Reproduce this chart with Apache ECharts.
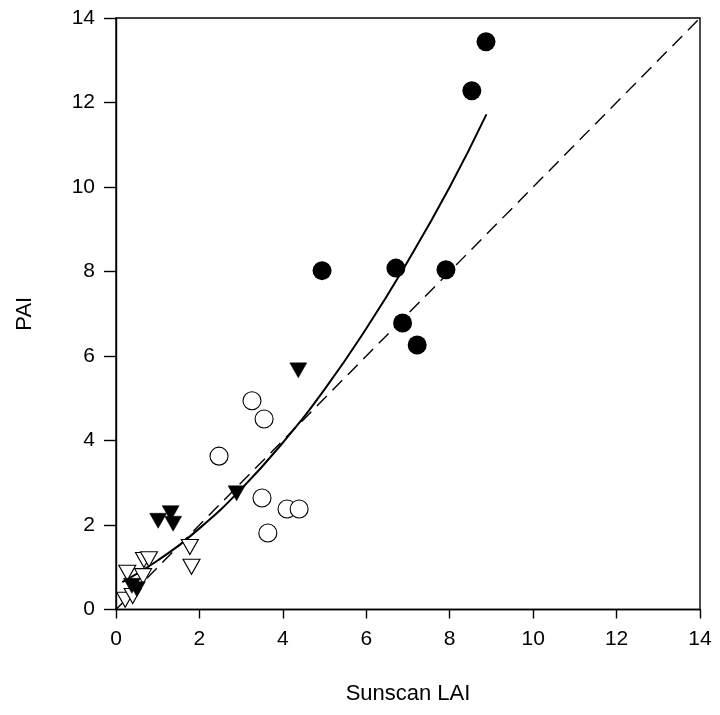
<!DOCTYPE html>
<html>
<head>
<meta charset="utf-8">
<script src="https://cdn.jsdelivr.net/npm/echarts@6/dist/echarts.min.js"></script>
<style>
  html, body { margin: 0; padding: 0; background: #fff; }
  #chart { width: 720px; height: 715px; }
</style>
</head>
<body>
<div id="chart"></div>
<script>
// Axis ticks
const xTicks = [0, 2, 4, 6, 8, 10, 12, 14];
const yTicks = [0, 2, 4, 6, 8, 10, 12, 14];

// Filled circles: [Sunscan LAI, PAI]
const filledCircles = [
  [4.94, 8.02], [6.71, 8.08], [7.91, 8.04], [6.87, 6.78],
  [7.22, 6.26], [8.53, 12.28], [8.87, 13.44]
];
// Open circles
const openCircles = [
  [3.26, 4.94], [3.55, 4.51], [2.47, 3.63], [3.50, 2.64],
  [3.64, 1.81], [4.10, 2.38], [4.39, 2.38]
];
// Filled down-triangles
const filledTriangles = [
  [0.38, 0.56], [0.50, 0.48], [1.01, 2.10], [1.31, 2.28],
  [1.37, 2.03], [2.89, 2.75], [4.37, 5.66]
];
// Open down-triangles
const openTriangles = [
  [0.22, 0.23], [0.40, 0.32], [0.27, 0.87], [0.65, 0.79],
  [0.67, 1.17], [0.79, 1.19], [1.77, 1.48], [1.81, 1.01]
];
// Fitted curve, sampled along its length
const fitCurve = [
  [0.15, 0.65], [1, 1.16], [2, 1.92], [3, 2.85], [4, 3.95],
  [5, 5.21], [6, 6.65], [7, 8.25], [8, 10.0], [8.88, 11.72]
];
// 1:1 reference line
const oneToOne = [[0, 0], [14, 14]];

const FONT = '"Liberation Sans", Arial, sans-serif';

const chart = echarts.init(document.getElementById('chart'), null, { renderer: 'canvas' });

const axisCommon = {
  min: 0, max: 14, interval: 2,
  splitLine: { show: false },
  axisLine: { show: true, onZero: false, lineStyle: { color: '#000', width: 1.4 } },
  axisTick: { show: true, inside: false, lineStyle: { color: '#000', width: 1.4 } },
  axisLabel: { color: '#000', fontSize: 21, fontFamily: FONT },
  nameLocation: 'middle',
  nameTextStyle: { color: '#000', fontSize: 22, fontFamily: FONT }
};

chart.setOption({
  animation: false,
  backgroundColor: '#fff',
  grid: {
    left: 116, right: 20, top: 18, bottom: 105.5,
    show: true, borderColor: '#000', borderWidth: 1.4, backgroundColor: 'transparent'
  },
  xAxis: Object.assign({}, axisCommon, {
    type: 'value',
    name: 'Sunscan LAI',
    nameGap: 73,
    axisTick: Object.assign({}, axisCommon.axisTick, { length: 9 }),
    axisLabel: Object.assign({}, axisCommon.axisLabel, {
      margin: 19,
      formatter: v => xTicks.includes(v) ? String(v) : ''
    })
  }),
  yAxis: Object.assign({}, axisCommon, {
    type: 'value',
    name: 'PAI',
    nameGap: 80,
    axisTick: Object.assign({}, axisCommon.axisTick, { length: 12 }),
    axisLabel: Object.assign({}, axisCommon.axisLabel, {
      margin: 21,
      formatter: v => yTicks.includes(v) ? String(v) : ''
    })
  }),
  series: [
    {
      type: 'line', data: oneToOne, showSymbol: false, silent: true,
      lineStyle: { color: '#000', width: 1.4, type: [14, 8] }, z: 2
    },
    {
      type: 'line', data: fitCurve, smooth: true, showSymbol: false, silent: true,
      lineStyle: { color: '#000', width: 2 }, z: 2
    },
    {
      type: 'scatter', data: openTriangles, symbol: 'triangle', symbolRotate: 180,
      symbolSize: [17, 15],
      itemStyle: { color: '#fff', borderColor: '#000', borderWidth: 1.1, opacity: 1 }, z: 3
    },
    {
      type: 'scatter', data: filledTriangles, symbol: 'triangle', symbolRotate: 180,
      symbolSize: [17, 15],
      itemStyle: { color: '#000', borderColor: '#000', borderWidth: 0.5, opacity: 1 }, z: 4
    },
    {
      type: 'scatter', data: openCircles, symbol: 'circle', symbolSize: 18,
      itemStyle: { color: '#fff', borderColor: '#000', borderWidth: 1.1, opacity: 1 }, z: 3
    },
    {
      type: 'scatter', data: filledCircles, symbol: 'circle', symbolSize: 19,
      itemStyle: { color: '#000', opacity: 1 }, z: 4
    }
  ]
});
</script>
</body>
</html>
